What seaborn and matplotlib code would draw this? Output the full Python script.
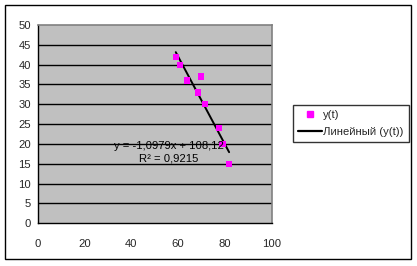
import matplotlib
matplotlib.use("Agg")
import matplotlib.pyplot as plt
import matplotlib.patches as mpatches
from matplotlib.lines import Line2D
import seaborn as sns
import pandas as pd

# data
x_vals = [59.0, 60.8, 63.8, 69.8, 68.5, 71.5, 77.5, 79.0, 81.8]
y_vals = [42.0, 40.0, 36.0, 37.0, 33.0, 30.0, 24.0, 20.0, 15.0]
series_name = "y(t)"
trend_name = "Линейный (y(t))"
eq_text = "y = -1,0979x + 108,12"
r2_text = "R² = 0,9215"
x_ticks = [0, 20, 40, 60, 80, 100]
y_ticks = [0, 5, 10, 15, 20, 25, 30, 35, 40, 45, 50]

df = pd.DataFrame({"x": x_vals, "y": y_vals})

sns.set_style("white")
plt.rcParams["font.family"] = ["Liberation Sans", "DejaVu Sans"]

FS = 8.1

fig = plt.figure(figsize=(4.17, 2.66), dpi=100)
ax = fig.add_axes([37.7 / 417, 1 - 223.3 / 266, (271.7 - 37.7) / 417, (223.3 - 25) / 266])
ax.set_facecolor("#C0C0C0")

for v in y_ticks[1:-1]:
    ax.axhline(v, color="black", lw=1.0, zorder=1)

sns.regplot(data=df, x="x", y="y", scatter=False, ci=None, truncate=True, ax=ax,
            line_kws=dict(color="black", lw=1.4, zorder=3))
sns.scatterplot(data=df, x="x", y="y", marker="s", s=20, color="#FF00FF",
                edgecolor="none", ax=ax, zorder=4, legend=False)

ax.text(56.1, 19.6, eq_text, ha="center", va="center", fontsize=FS, color="#000000", zorder=5)
ax.text(56.1, 16.4, r2_text, ha="center", va="center", fontsize=FS, color="#000000", zorder=5)

ax.set_xlim(0, 100)
ax.set_ylim(0, 50)
ax.set_xticks(x_ticks)
ax.set_yticks(y_ticks)
ax.set_xlabel("")
ax.set_ylabel("")
ax.tick_params(axis="both", labelsize=FS, length=3, width=1, direction="out",
               color="black", pad=2)
ax.tick_params(axis="x", pad=8)
for side in ["left", "bottom"]:
    ax.spines[side].set_color("black")
    ax.spines[side].set_linewidth(1)
for side in ["top", "right"]:
    ax.spines[side].set_visible(True)
    ax.spines[side].set_color("#808080")
    ax.spines[side].set_linewidth(1.2)

handles = [
    Line2D([], [], marker="s", color="#FF00FF", linestyle="none", markersize=4.5),
    Line2D([], [], color="black", lw=1.6),
]
leg = fig.legend(handles, [series_name, trend_name], loc="upper left",
                 bbox_to_anchor=(293.3 / 417, 1 - 105.3 / 266),
                 frameon=True, fancybox=False, fontsize=FS, borderpad=0.45,
                 handlelength=2.1, handletextpad=0.1, borderaxespad=0,
                 labelspacing=0.6)
leg.get_frame().set_edgecolor("black")
leg.get_frame().set_linewidth(1.0)

fig.patches.append(mpatches.Rectangle((5 / 417, 1 - 259 / 266), 406 / 417, 254 / 266,
                                      transform=fig.transFigure, fill=False,
                                      edgecolor="black", lw=1.0))

fig.savefig("out.png", dpi=100)
